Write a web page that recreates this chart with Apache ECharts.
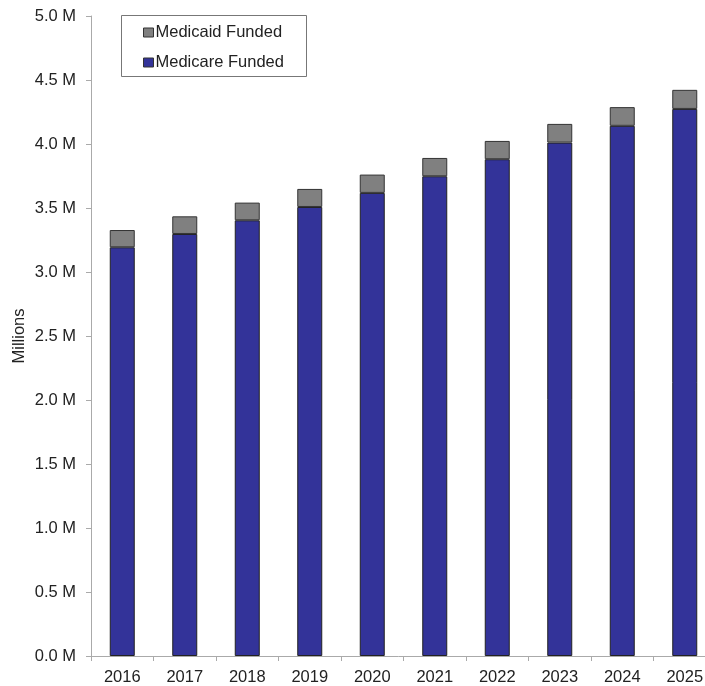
<!DOCTYPE html>
<html><head><meta charset="utf-8">
<script src="https://cdn.jsdelivr.net/npm/echarts@6/dist/echarts.min.js"></script>
<style>html,body{margin:0;padding:0;background:#fff}#c{width:705px;height:686px}</style>
</head><body><div id="c"></div>
<script>
const categories = ['2016','2017','2018','2019','2020','2021','2022','2023','2024','2025'];
const medicare = [3.193, 3.297, 3.404, 3.508, 3.618, 3.748, 3.881, 4.011, 4.142, 4.274];
const medicaid = [0.135, 0.138, 0.138, 0.141, 0.143, 0.143, 0.143, 0.146, 0.146, 0.149];
const yTicks = {min: 0, max: 5, interval: 0.5};
const font = 'Liberation Sans, Arial, sans-serif';
const chart = echarts.init(document.getElementById('c'));
chart.setOption({
  animation: false,
  textStyle: {fontFamily: font},
  grid: {left: 91, top: 16, width: 625, height: 640, containLabel: false, outerBoundsMode: 'none'},
  graphic: [{type: 'rect', shape: {x: 121.5, y: 15.5, width: 185, height: 61}, style: {fill: '#fff', stroke: '#777', lineWidth: 1}, z: 10}],
  legend: {
    orient: 'vertical', left: 138, top: 19, itemWidth: 10, itemHeight: 9, itemGap: 13,
    icon: 'rect', z: 20,
    textStyle: {fontFamily: font, fontSize: 16.5, color: '#222', padding: [0,0,0,-3]},
    data: [
      {name: 'Medicaid Funded', itemStyle: {color: '#808080', borderColor: '#333', borderWidth: 1}},
      {name: 'Medicare Funded', itemStyle: {color: '#333399', borderColor: '#333', borderWidth: 1}}
    ]
  },
  xAxis: {
    type: 'category', data: categories,
    axisLine: {lineStyle: {color: '#aaa', width: 1}},
    axisTick: {show: true, length: 5, lineStyle: {color: '#aaa'}},
    axisLabel: {fontSize: 16.5, color: '#222', margin: 13, fontFamily: font}
  },
  yAxis: {
    type: 'value', min: yTicks.min, max: yTicks.max, interval: yTicks.interval,
    name: 'Millions', nameLocation: 'middle', nameRotate: 90, nameGap: 63, nameMoveOverlap: false,
    nameTextStyle: {fontSize: 16.5, color: '#222', fontFamily: font},
    axisLine: {show: true, lineStyle: {color: '#aaa', width: 1}},
    axisTick: {show: true, length: 5, lineStyle: {color: '#aaa'}},
    splitLine: {show: false},
    axisLabel: {fontSize: 16.5, color: '#222', margin: 15, fontFamily: font, formatter: v => v.toFixed(1) + ' M'}
  },
  series: [
    {name: 'Medicare Funded', type: 'bar', stack: 't', data: medicare, barWidth: 25,
     itemStyle: {color: '#333399', borderColor: '#222', borderWidth: 1}},
    {name: 'Medicaid Funded', type: 'bar', stack: 't', data: medicaid, barWidth: 25,
     itemStyle: {color: '#808080', borderColor: '#333', borderWidth: 1}}
  ]
});
</script></body></html>
